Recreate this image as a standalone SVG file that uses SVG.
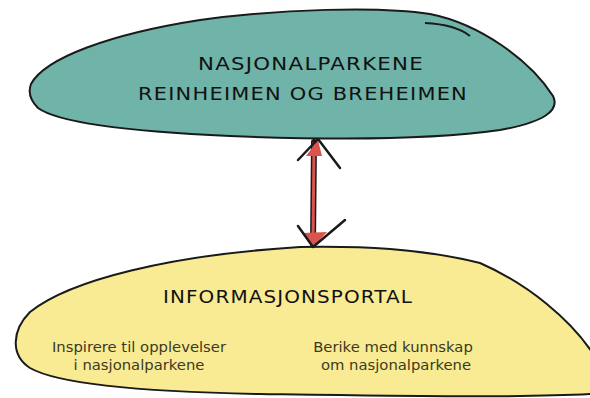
<svg xmlns="http://www.w3.org/2000/svg" width="590" height="398" viewBox="0 0 590 398">
<defs>
<style>
.shape{stroke:#1a1a1a;stroke-width:2;stroke-linejoin:round}
.hand{font-family:"DejaVu Sans","Liberation Sans",sans-serif;font-weight:normal;fill:#111;letter-spacing:1px}
.body{font-family:"DejaVu Sans","Liberation Sans",sans-serif;font-size:14.8px;fill:#3b3a22;text-anchor:middle}
.chev{fill:none;stroke:#1a1a1a;stroke-width:2.5;stroke-linejoin:round;stroke-linecap:round}
.tip{fill:#d9534f;stroke:none}
</style>
</defs>
<rect width="590" height="398" fill="#ffffff"/>
<g id="node-nasjonalparkene">
<path class="shape" fill="#6fb3a9" d="M31,84 C45,58 110,34 200,20 C280,9 380,6 430,14 C480,24 530,60 553,96 C560,110 545,122 500,130 C430,140 330,140 230,136 C140,132 60,124 38,108 C30,100 28,92 31,84 Z"/>
<path d="M425,23 C445,24 460,28 470,36" fill="none" stroke="#1a1a1a" stroke-width="2"/>
<text class="hand" x="311" y="70" font-size="17" text-anchor="middle" textLength="226" lengthAdjust="spacingAndGlyphs">NASJONALPARKENE</text>
<text class="hand" x="303" y="100" font-size="17" text-anchor="middle" textLength="330" lengthAdjust="spacingAndGlyphs">REINHEIMEN OG BREHEIMEN</text>
</g>
<g id="node-informasjonsportal">
<path class="shape" fill="#f8eb93" d="M300,247 C360,246 420,248 480,263 C530,285 570,320 592,352 L592,394 C520,398 400,396 260,394 C150,392 60,385 30,368 C10,355 12,330 30,312 C70,280 170,255 300,247 Z"/>
<text class="hand" x="288" y="303" font-size="18" text-anchor="middle" textLength="250" lengthAdjust="spacingAndGlyphs">INFORMASJONSPORTAL</text>
<text class="body" x="139" y="352">Inspirere til opplevelser</text>
<text class="body" x="139" y="370">i nasjonalparkene</text>
<text class="body" x="393" y="352">Berike med kunnskap</text>
<text class="body" x="396" y="370">om nasjonalparkene</text>
</g>
<g id="connectors">
<line x1="314" y1="142" x2="313" y2="244" stroke="#1a1a1a" stroke-width="6" stroke-linecap="round"/>
<line x1="314" y1="142" x2="313" y2="244" stroke="#d9534f" stroke-width="3"/>
<path class="tip" d="M318,140 L306,156 L322,156 Z"/>
<path class="chev" d="M298,160 L318,139 L340,168"/>
<path class="tip" d="M313,247 L302,233 L327,232 Z"/>
<path class="chev" d="M298,226 L313,247 L345,220"/>
</g>
</svg>
